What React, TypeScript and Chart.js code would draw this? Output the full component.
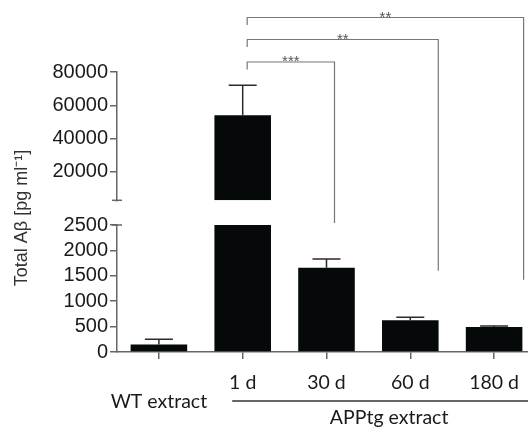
import React, { useEffect, useRef } from 'react';
import { Chart, registerables } from 'chart.js';

Chart.register(...registerables);

// ---------- data ----------
const CATEGORIES = ['WT extract', '1 d', '30 d', '60 d', '180 d'];
const MEANS = [150, 54000, 1660, 624, 492];
const ERRORS = [100, 18000, 170, 60, 20];
const LOWER_TICKS = [0, 500, 1000, 1500, 2000, 2500];
const UPPER_TICKS = [20000, 40000, 60000, 80000];
const LOWER_MAX = 2500;
const UPPER_MIN = 3000;
const UPPER_MAX = 80000;
const Y_TITLE = 'Total Aβ [pg ml⁻¹]';
const GROUP_LABEL = 'APPtg extract';
const GROUP_FIRST = 1;
const BRACKET_FROM = [1, 1, 1];
const BRACKET_TO = [2, 3, 4];
const BRACKET_LABELS = ['***', '**', '**'];
const BRACKET_LEG_END = [2540, 1600, 1420];

// ---------- layout / style ----------
const BAR_COLOR = '#050909';
const AXIS_COLOR = '#666666';
const TEXT_COLOR = '#1a1a1a';
const SANS = '"Liberation Sans", Arial, sans-serif';
const CAT_FONT = 'Lato';
const CAT_SIZE = 19.5;
const BRACKET_RISE = [10, 32.5, 54.5];
const BRACKET_RIGHT_SHIFT = [8, 28, 29.5];
const CAP_HALF = 14;

const annotations = {
  id: 'annotations',
  afterDatasetsDraw(chart: any) {
    const ctx = chart.ctx as CanvasRenderingContext2D;
    const x = chart.scales.x;
    const yL = chart.scales.y;
    const yU = chart.scales.y2;
    const area = chart.chartArea;
    ctx.save();
    // error bars
    ctx.strokeStyle = '#2a2a2a';
    ctx.lineWidth = 1.5;
    MEANS.forEach((m, i) => {
      const s = m > LOWER_MAX ? yU : yL;
      const cx = x.getPixelForValue(i);
      const y0 = s.getPixelForValue(m);
      const y1 = s.getPixelForValue(m + ERRORS[i]);
      ctx.beginPath();
      ctx.moveTo(cx, y0);
      ctx.lineTo(cx, y1);
      ctx.moveTo(cx - CAP_HALF, y1);
      ctx.lineTo(cx + CAP_HALF, y1);
      ctx.stroke();
    });
    // axis break marks
    ctx.strokeStyle = AXIS_COLOR;
    ctx.lineWidth = 1.5;
    const ax = area.left;
    [yU.getPixelForValue(UPPER_MIN), yL.getPixelForValue(LOWER_MAX)].forEach((py) => {
      ctx.beginPath();
      ctx.moveTo(ax - 5, py);
      ctx.lineTo(ax + 5, py);
      ctx.stroke();
    });
    // significance brackets
    ctx.strokeStyle = '#777777';
    ctx.lineWidth = 1.2;
    ctx.fillStyle = '#555555';
    ctx.font = '15px ' + SANS;
    ctx.textAlign = 'center';
    ctx.textBaseline = 'alphabetic';
    BRACKET_FROM.forEach((f, k) => {
      const lx = x.getPixelForValue(f) + 4.5;
      const rx = x.getPixelForValue(BRACKET_TO[k]) + BRACKET_RIGHT_SHIFT[k];
      const ly = area.top - BRACKET_RISE[k];
      const ry = yL.getPixelForValue(BRACKET_LEG_END[k]);
      ctx.beginPath();
      ctx.moveTo(lx, ly + 7.5);
      ctx.lineTo(lx, ly);
      ctx.lineTo(rx, ly);
      ctx.lineTo(rx, ry);
      ctx.stroke();
      ctx.fillText(BRACKET_LABELS[k], (lx + rx) / 2, ly + 4);
    });
    // group underline + label
    const gx0 = x.getPixelForValue(GROUP_FIRST) - 10.5;
    const gx1 = area.right + 10;
    const gy = area.bottom + 49;
    ctx.strokeStyle = '#333333';
    ctx.lineWidth = 1.5;
    ctx.beginPath();
    ctx.moveTo(gx0, gy);
    ctx.lineTo(gx1, gy);
    ctx.stroke();
    ctx.fillStyle = TEXT_COLOR;
    ctx.font = CAT_SIZE + 'px ' + CAT_FONT;
    ctx.textBaseline = 'middle';
    ctx.fillText(GROUP_LABEL, (gx0 + gx1) / 2, gy + 17);
    // y title
    ctx.translate(22, (area.top + area.bottom) / 2 + 6);
    ctx.rotate(-Math.PI / 2);
    ctx.font = '18px ' + SANS;
    ctx.fillStyle = '#333333';
    ctx.fillText(Y_TITLE, 0, 0);
    ctx.restore();
  },
};

export default function App() {
  const ref = useRef<HTMLCanvasElement | null>(null);
  useEffect(() => {
    if (!ref.current) return;
    Chart.defaults.font.family = SANS;
    const yAxisCommon = {
      stack: 'v',
      border: { color: AXIS_COLOR, width: 1.5 },
      grid: { drawOnChartArea: false, drawTicks: true, tickLength: 7, color: AXIS_COLOR, lineWidth: 1.5 },
      ticks: {
        color: TEXT_COLOR,
        font: { family: SANS, size: 20 },
        padding: 2,
        autoSkip: false,
        callback: (v: any) => String(v),
      },
      afterFit: (s: any) => { s.width = 117; },
    };
    const chart = new Chart(ref.current, {
      type: 'bar',
      data: {
        labels: CATEGORIES,
        datasets: [
          {
            data: MEANS.map((v) => Math.min(v, LOWER_MAX)),
            yAxisID: 'y',
            backgroundColor: BAR_COLOR,
            borderWidth: 0,
            grouped: false,
            barPercentage: 0.675,
            categoryPercentage: 1,
          } as any,
          {
            data: MEANS.map((v) => (v > LOWER_MAX ? [UPPER_MIN, v] : null)),
            yAxisID: 'y2',
            backgroundColor: BAR_COLOR,
            borderWidth: 0,
            grouped: false,
            barPercentage: 0.675,
            categoryPercentage: 1,
          } as any,
        ],
      },
      options: {
        animation: false,
        responsive: false,
        layout: { padding: { top: 72, right: 24, left: 0, bottom: 0 } },
        plugins: { legend: { display: false }, tooltip: { enabled: false } },
        scales: {
          x: {
            offset: true,
            border: { color: AXIS_COLOR, width: 1.5 },
            grid: { offset: false, drawOnChartArea: false, drawTicks: true, tickLength: 7, color: AXIS_COLOR, lineWidth: 1.5 },
            ticks: {
              color: TEXT_COLOR,
              font: { family: CAT_FONT, size: CAT_SIZE, lineHeight: 0.944 },
              padding: 15,
              maxRotation: 0,
              minRotation: 0,
              autoSkip: false,
              callback: (_v: any, i: number) => (i === 0 ? ['', CATEGORIES[i]] : CATEGORIES[i]),
            },
            afterFit: (s: any) => { s.height = 80; },
          },
          y: {
            ...yAxisCommon,
            type: 'linear',
            position: 'left',
            stackWeight: 127,
            min: 0,
            max: LOWER_MAX,
            afterBuildTicks: (s: any) => { s.ticks = LOWER_TICKS.map((v) => ({ value: v })); },
          },
          yGap: {
            type: 'linear',
            position: 'left',
            stack: 'v',
            stackWeight: 24.7,
            display: false,
            afterFit: (s: any) => { s.width = 117; },
          },
          y2: {
            ...yAxisCommon,
            type: 'linear',
            position: 'left',
            stackWeight: 128.3,
            min: UPPER_MIN,
            max: UPPER_MAX,
            afterBuildTicks: (s: any) => { s.ticks = UPPER_TICKS.map((v) => ({ value: v })); },
          },
        } as any,
      },
      plugins: [annotations],
    });
    return () => chart.destroy();
  }, []);
  return (
    <div style={{ position: 'absolute', left: 0, top: 0, width: 528, height: 432, overflow: 'hidden', background: '#fff' }}>
      <canvas ref={ref} width={560} height={432} style={{ display: 'block' }} />
    </div>
  );
}
